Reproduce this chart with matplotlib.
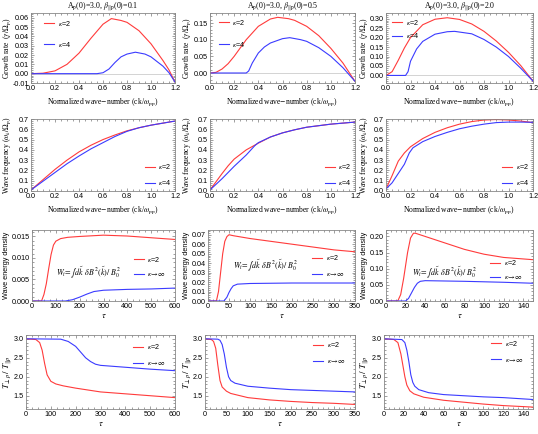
import matplotlib.pyplot as plt
from matplotlib.ticker import AutoMinorLocator

# ---- growth rate (row 1) ----
k_g1_r = [0, 0.1, 0.2, 0.3, 0.4, 0.5, 0.6, 0.67, 0.75, 0.8, 0.9, 1.0, 1.1, 1.15, 1.2]
g1_r = [0, 0.0005, 0.003, 0.01, 0.022, 0.038, 0.053, 0.059, 0.057, 0.055, 0.046, 0.032, 0.014, 0.004, -0.009]
k_g1_b = [0, 0.55, 0.6, 0.65, 0.7, 0.75, 0.8, 0.87, 0.95, 1.0, 1.1, 1.15, 1.2]
g1_b = [0, 0, 0.001, 0.005, 0.012, 0.018, 0.021, 0.023, 0.021, 0.018, 0.008, 0.001, -0.009]

k_g2_r = [0, 0.05, 0.1, 0.15, 0.2, 0.3, 0.4, 0.5, 0.56, 0.65, 0.7, 0.8, 0.9, 1.0, 1.1, 1.2]
g2_r = [0, 0.002, 0.012, 0.028, 0.05, 0.1, 0.14, 0.162, 0.167, 0.163, 0.158, 0.14, 0.112, 0.074, 0.03, -0.025]
k_g2_b = [0, 0.3, 0.32, 0.35, 0.4, 0.45, 0.5, 0.6, 0.66, 0.75, 0.8, 0.9, 1.0, 1.1, 1.2]
g2_b = [0, 0, 0.006, 0.03, 0.06, 0.078, 0.09, 0.103, 0.106, 0.1, 0.095, 0.076, 0.05, 0.016, -0.025]

k_g3_r = [0, 0.05, 0.1, 0.15, 0.2, 0.3, 0.4, 0.5, 0.6, 0.7, 0.8, 0.9, 1.0, 1.1, 1.2]
g3_r = [0, 0.02, 0.08, 0.145, 0.2, 0.268, 0.297, 0.305, 0.296, 0.272, 0.233, 0.182, 0.122, 0.052, -0.03]
k_g3_b = [0, 0.16, 0.18, 0.2, 0.25, 0.3, 0.4, 0.5, 0.56, 0.7, 0.8, 0.9, 1.0, 1.1, 1.2]
g3_b = [0, 0, 0.02, 0.075, 0.14, 0.18, 0.218, 0.231, 0.233, 0.22, 0.19, 0.15, 0.1, 0.038, -0.03]

# ---- wave frequency (row 2) ----
k_w = [0, 0.1, 0.2, 0.3, 0.4, 0.5, 0.6, 0.7, 0.8, 0.9, 1.0, 1.1, 1.2]
w1_r = [0.01, 0.11, 0.21, 0.3, 0.38, 0.445, 0.5, 0.545, 0.585, 0.615, 0.64, 0.66, 0.68]
w1_b = [0.01, 0.095, 0.18, 0.265, 0.34, 0.41, 0.47, 0.53, 0.58, 0.615, 0.64, 0.66, 0.68]

k_w2_r = [0, 0.05, 0.1, 0.15, 0.2, 0.3, 0.4, 0.5, 0.6, 0.7, 0.8, 0.9, 1.0, 1.1, 1.2]
w2_r = [0.01, 0.09, 0.17, 0.245, 0.31, 0.4, 0.465, 0.525, 0.565, 0.595, 0.62, 0.635, 0.65, 0.66, 0.67]
k_w2_b = [0, 0.1, 0.2, 0.3, 0.37, 0.4, 0.5, 0.6, 0.7, 0.8, 0.9, 1.0, 1.1, 1.2]
w2_b = [0.01, 0.12, 0.24, 0.35, 0.44, 0.47, 0.525, 0.565, 0.595, 0.62, 0.635, 0.65, 0.66, 0.67]

k_w3_r = [0, 0.05, 0.1, 0.15, 0.2, 0.3, 0.4, 0.5, 0.6, 0.7, 0.8, 0.9, 1.0, 1.1, 1.2]
w3_r = [0.02, 0.15, 0.29, 0.37, 0.43, 0.51, 0.57, 0.615, 0.65, 0.675, 0.69, 0.695, 0.69, 0.68, 0.665]
k_w3_b = [0, 0.05, 0.1, 0.15, 0.19, 0.22, 0.3, 0.4, 0.5, 0.6, 0.7, 0.8, 0.9, 1.0, 1.1, 1.2]
w3_b = [0.02, 0.08, 0.17, 0.26, 0.37, 0.42, 0.48, 0.53, 0.57, 0.605, 0.63, 0.65, 0.665, 0.67, 0.67, 0.668]

# ---- wave energy density (row 3) ----
t_e1_r = [0, 40, 50, 60, 70, 80, 90, 100, 120, 150, 200, 300, 400, 500, 600]
e1_r = [0, 0, 0.0015, 0.004, 0.0075, 0.0108, 0.013, 0.0139, 0.0145, 0.0148, 0.015, 0.0153, 0.0151, 0.0147, 0.0143]
t_e1_b = [0, 140, 170, 200, 230, 260, 300, 400, 500, 600]
e1_b = [0, 0, 0.0003, 0.0009, 0.0016, 0.0022, 0.0025, 0.0027, 0.0028, 0.003]

t_e2_r = [0, 20, 25, 30, 35, 40, 45, 50, 60, 100, 150, 200, 250, 300, 350]
e2_r = [0, 0, 0.01, 0.03, 0.05, 0.063, 0.068, 0.07, 0.069, 0.066, 0.063, 0.06, 0.057, 0.054, 0.052]
t_e2_b = [0, 38, 45, 50, 55, 60, 70, 100, 200, 350]
e2_b = [0, 0, 0.004, 0.009, 0.013, 0.016, 0.0178, 0.0185, 0.019, 0.019]

t_e3_r = [0, 12, 15, 18, 20, 22, 25, 28, 30, 40, 60, 80, 100, 120, 150]
e3_r = [0, 0, 0.02, 0.07, 0.11, 0.15, 0.195, 0.21, 0.21, 0.2, 0.18, 0.16, 0.145, 0.135, 0.128]
t_e3_b = [0, 20, 23, 26, 29, 32, 35, 40, 80, 120, 150]
e3_b = [0, 0, 0.008, 0.025, 0.042, 0.055, 0.061, 0.063, 0.061, 0.058, 0.055]

# ---- temperature anisotropy (row 4) ----
t_a1_r = [0, 40, 55, 65, 75, 85, 100, 120, 150, 200, 300, 400, 500, 600]
a1_r = [3.0, 2.98, 2.9, 2.7, 2.35, 2.05, 1.88, 1.81, 1.76, 1.7, 1.6, 1.55, 1.5, 1.45]
t_a1_b = [0, 140, 170, 200, 220, 240, 260, 280, 300, 400, 500, 600]
a1_b = [3.0, 2.99, 2.93, 2.8, 2.65, 2.5, 2.4, 2.33, 2.3, 2.25, 2.2, 2.16]

t_a2_r = [0, 15, 20, 25, 30, 35, 40, 50, 60, 100, 150, 200, 250, 300, 350]
a2_r = [3.0, 2.98, 2.93, 2.75, 2.3, 1.9, 1.73, 1.62, 1.56, 1.45, 1.39, 1.35, 1.32, 1.3, 1.27]
t_a2_b = [0, 30, 35, 40, 45, 50, 55, 60, 70, 100, 150, 200, 250, 300, 350]
a2_b = [3.0, 2.99, 2.96, 2.85, 2.6, 2.25, 2.0, 1.9, 1.83, 1.75, 1.7, 1.66, 1.64, 1.62, 1.6]

t_a3_r = [0, 10, 14, 17, 19, 21, 23, 26, 30, 40, 60, 80, 100, 120, 150]
a3_r = [3.0, 2.98, 2.9, 2.6, 2.3, 2.0, 1.78, 1.63, 1.55, 1.46, 1.38, 1.33, 1.28, 1.24, 1.2]
t_a3_b = [0, 18, 21, 23, 25, 27, 29, 31, 35, 45, 60, 80, 100, 120, 150]
a3_b = [3.0, 2.98, 2.9, 2.7, 2.4, 2.05, 1.85, 1.75, 1.66, 1.58, 1.53, 1.5, 1.47, 1.45, 1.4]

titles = [r'A$_{\rm p}$(0)=3.0, $\beta_{\Vert\rm p}$(0)=0.1',
          r'A$_{\rm p}$(0)=3.0, $\beta_{\Vert\rm p}$(0)=0.5',
          r'A$_{\rm p}$(0)=3.0, $\beta_{\Vert\rm p}$(0)=2.0']
xlab_k = r'Normalized wave$-$number (ck/$\omega_{\rm p\,p}$)'
formula = r'$W_t\!=\!\int d\tilde{k}\;\;\delta B^2(\tilde{k})/\;B_0^2$'
lab_k4 = [r'$\kappa$=2', r'$\kappa$=4']
lab_inf = [r'$\kappa$=2', r'$\kappa\!\rightarrow\!\infty$']

RED = '#ff3b3b'
BLUE = '#3b3bff'
W, H = 538, 434
plt.rcParams['mathtext.fontset'] = 'stix'
plt.rcParams['font.family'] = ['Liberation Sans', 'DejaVu Sans']

fig = plt.figure(figsize=(W / 100, H / 100), dpi=100)


def make_ax(l, r, top, bot, ylab_px):
    ax = fig.add_axes([l / W, 1 - bot / H, (r - l) / W, (bot - top) / H])
    for s in ax.spines.values():
        s.set_color('#888888')
        s.set_linewidth(0.6)
    ax.tick_params(which='both', direction='in', top=True, right=True,
                   labelsize=5.2, color='#777777', width=0.5, pad=1.5)
    ax.tick_params(which='major', length=2.5)
    ax.tick_params(which='minor', length=1.3)
    ax.xaxis.set_minor_locator(AutoMinorLocator(4))
    ax.yaxis.set_minor_locator(AutoMinorLocator(5))
    # y label centre, in pixels from the left edge of the figure
    ax.yaxis.set_label_coords(-(l - ylab_px) / (r - l), 0.5)
    return ax


def draw(ax, xr, yr, xb, yb, labels, lx, ly_top, spacing):
    hr, = ax.plot(xr, yr, color=RED, lw=0.8)
    hb, = ax.plot(xb, yb, color=BLUE, lw=0.8)
    ax.legend([hr, hb], labels, loc='upper left', bbox_to_anchor=(lx, ly_top),
              frameon=False, fontsize=5.2, handlelength=1.4, handletextpad=0.5,
              labelspacing=spacing, borderaxespad=0, borderpad=0)


lab_font = dict(family='Liberation Serif', fontsize=5.5)

cols = [(31, 175), (210, 355), (386, 533)]
ylab_x = [7, 187, 364]

# row 1
g_data = [(k_g1_r, g1_r, k_g1_b, g1_b), (k_g2_r, g2_r, k_g2_b, g2_b), (k_g3_r, g3_r, k_g3_b, g3_b)]
g_lims = [(-0.01, 0.065), (-0.03, 0.18), (-0.04, 0.33)]
g_ticks = [[-0.01, 0, 0.01, 0.02, 0.03, 0.04, 0.05, 0.06],
           [0, 0.05, 0.1, 0.15], [0, 0.05, 0.1, 0.15, 0.2, 0.25, 0.3]]
g_leg = [(0.09, 0.92, 1.7), (0.06, 0.93, 1.8), (0.04, 0.93, 0.6)]
for i in range(3):
    ax = make_ax(cols[i][0], cols[i][1], 13, 83, ylab_x[i])
    kr, gr, kb, gb = g_data[i]
    ax.axhline(0, color='#cccccc', lw=0.6)
    draw(ax, kr, gr, kb, gb, lab_k4, *g_leg[i])
    ax.set_xlim(0, 1.2)
    ax.set_ylim(*g_lims[i])
    ax.set_yticks(g_ticks[i])
    ax.set_yticklabels(['%.2f' % v for v in g_ticks[i]])
    ax.set_xticks([0, 0.2, 0.4, 0.6, 0.8, 1.0, 1.2])
    ax.set_title(titles[i], fontsize=5.7, family='Liberation Serif', pad=2)
    ax.set_xlabel(xlab_k, labelpad=3, **lab_font)
    ax.set_ylabel(r'Growth rate  ($\gamma/\Omega_{\rm p}$)', va='center', **lab_font)

# row 2
w_data = [(k_w, w1_r, k_w, w1_b), (k_w2_r, w2_r, k_w2_b, w2_b), (k_w3_r, w3_r, k_w3_b, w3_b)]
for i in range(3):
    ax = make_ax(cols[i][0], cols[i][1], 119, 191, ylab_x[i])
    kr, wr, kb, wb = w_data[i]
    draw(ax, kr, wr, kb, wb, lab_k4, 0.79, 0.4, 1.0)
    ax.set_xlim(0, 1.2)
    ax.set_ylim(0, 0.7)
    ax.set_xticks([0, 0.2, 0.4, 0.6, 0.8, 1.0, 1.2])
    ax.set_yticks([0, 0.1, 0.2, 0.3, 0.4, 0.5, 0.6, 0.7])
    ax.set_xlabel(xlab_k, labelpad=3, **lab_font)
    ax.set_ylabel(r'Wave frequency ($\omega_k/\Omega_{\rm p}$)', va='center', **lab_font)

# row 3
cols3 = [(32, 175), (208, 355), (386, 533)]
e_data = [(t_e1_r, e1_r, t_e1_b, e1_b), (t_e2_r, e2_r, t_e2_b, e2_b), (t_e3_r, e3_r, t_e3_b, e3_b)]
e_xlim = [600, 350, 150]
e_xticks = [[0, 100, 200, 300, 400, 500, 600], [0, 50, 100, 150, 200, 250, 300, 350],
            [0, 20, 40, 60, 80, 100, 120, 140]]
e_ylim = [0.0165, 0.075, 0.22]
e_yticks = [[0, 0.005, 0.01, 0.015], [0, 0.01, 0.02, 0.03, 0.04, 0.05, 0.06, 0.07],
            [0, 0.05, 0.1, 0.15, 0.2]]
e_fmt = ['%.3f', '%.2f', '%.2f']
f_pos = [(0.17, 0.41), (0.17, 0.5), (0.18, 0.41)]
e_leg = [(0.71, 0.65, 0.9), (0.71, 0.67, 1.1), (0.71, 0.6, 0.8)]
for i in range(3):
    ax = make_ax(cols3[i][0], cols3[i][1], 230, 301, ylab_x[i])
    tr, er, tb, eb = e_data[i]
    draw(ax, tr, er, tb, eb, lab_inf, *e_leg[i])
    ax.set_xlim(0, e_xlim[i])
    ax.set_ylim(0, e_ylim[i])
    ax.set_xticks(e_xticks[i])
    ax.set_yticks(e_yticks[i])
    ax.set_yticklabels([e_fmt[i] % v for v in e_yticks[i]])
    ax.set_xlabel(r'$\tau$', labelpad=1, fontsize=6.5)
    ax.set_ylabel('Wave energy density', fontsize=5.2, va='center')
    ax.text(f_pos[i][0], f_pos[i][1], formula, transform=ax.transAxes,
            fontsize=5.8, va='center')

# row 4
cols4 = [(26, 175), (205, 355), (384, 533)]
a_data = [(t_a1_r, a1_r, t_a1_b, a1_b), (t_a2_r, a2_r, t_a2_b, a2_b), (t_a3_r, a3_r, t_a3_b, a3_b)]
a_leg = [(0.72, 0.9, 1.1), (0.72, 0.93, 1.1), (0.72, 0.95, 1.1)]
for i in range(3):
    ax = make_ax(cols4[i][0], cols4[i][1], 335, 409, ylab_x[i] + 1)
    tr, ar, tb, ab = a_data[i]
    draw(ax, tr, ar, tb, ab, lab_inf, *a_leg[i])
    ax.set_xlim(0, e_xlim[i])
    ax.set_ylim(1.15, 3.1)
    ax.set_xticks(e_xticks[i])
    ax.set_yticks([1.5, 2.0, 2.5, 3.0])
    ax.set_yticklabels(['1.5', '2.0', '2.5', '3.0'])
    ax.set_xlabel(r'$\tau$', labelpad=1, fontsize=6.5)
    ax.set_ylabel(r'$T_{\perp p}\,/\;T_{\Vert p}$', fontsize=6.5, va='center')

fig.savefig('out.png', dpi=100)
